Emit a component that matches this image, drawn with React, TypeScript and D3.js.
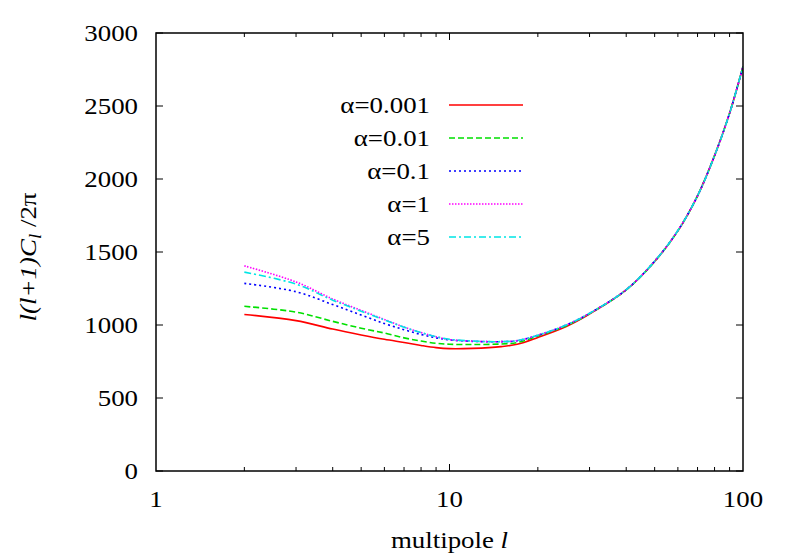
import { useEffect, useRef } from 'react';
import * as d3 from 'd3';

const multipoles = [2, 3, 4, 5, 6, 7, 8, 9, 10, 12, 15, 17, 20, 25, 30, 40, 50, 60, 70, 80, 90, 100];

const alpha0001 = [1072, 1030, 972, 932, 902, 880, 860, 845, 838, 840, 852, 868, 915, 990, 1075, 1240, 1435, 1645, 1885, 2160, 2450, 2770];
const alpha001 = [1128, 1088, 1025, 978, 945, 912, 890, 875, 868, 866, 870, 880, 925, 995, 1078, 1240, 1435, 1645, 1885, 2160, 2450, 2770];
const alpha01 = [1285, 1228, 1140, 1068, 1010, 968, 935, 912, 898, 888, 886, 892, 930, 1000, 1080, 1242, 1437, 1647, 1885, 2160, 2450, 2770];
const alpha1 = [1405, 1295, 1178, 1100, 1038, 986, 948, 920, 900, 889, 886, 893, 930, 1000, 1080, 1242, 1437, 1647, 1885, 2160, 2450, 2770];
const alpha5 = [1362, 1280, 1170, 1095, 1035, 985, 948, 920, 902, 890, 886, 893, 930, 1000, 1080, 1242, 1437, 1647, 1885, 2160, 2450, 2770];

const seriesLabels = ['α=0.001', 'α=0.01', 'α=0.1', 'α=1', 'α=5'];
const yTicks = [0, 500, 1000, 1500, 2000, 2500, 3000];
const xTicks = [1, 10, 100];

const series = [
  { label: seriesLabels[0], values: alpha0001, color: '#ff0000', dash: null },
  { label: seriesLabels[1], values: alpha001, color: '#00e000', dash: '6,3' },
  { label: seriesLabels[2], values: alpha01, color: '#0000ff', dash: '2,3' },
  { label: seriesLabels[3], values: alpha1, color: '#ff00ff', dash: '1.5,1.5' },
  { label: seriesLabels[4], values: alpha5, color: '#00e5e5', dash: '7,3,2,3' },
];

const FONT = 'Liberation Serif, serif';
const STRETCH = 1.12; // the original postscript text is a bit wider than it is tall

const App = () => {
  const svgRef = useRef<SVGSVGElement>(null);

  useEffect(() => {
    if (!svgRef.current) return;
    const width = 790;
    const height = 553;
    const m = { left: 156, right: 47, top: 33, bottom: 82 };

    const svg = d3.select(svgRef.current);
    svg.selectAll('*').remove();

    const x = d3.scaleLog().domain([1, 100]).range([m.left, width - m.right]);
    const y = d3.scaleLinear().domain([0, 3000]).range([height - m.bottom, m.top]);
    const x0 = m.left, x1 = width - m.right, y0 = height - m.bottom, y1 = m.top;

    const label = (px: number, py: number, anchor: string, rot = 0) =>
      svg.append('text')
        .attr('transform', `translate(${px},${py}) rotate(${rot}) scale(${STRETCH},1)`)
        .attr('text-anchor', anchor)
        .attr('font-family', FONT).attr('font-size', 24);

    // curves
    svg.append('clipPath').attr('id', 'plotclip')
      .append('rect').attr('x', x0).attr('y', y1).attr('width', x1 - x0).attr('height', y0 - y1);

    const line = d3.line<number>()
      .x((_, i) => x(multipoles[i]))
      .y(d => y(d))
      .curve(d3.curveCatmullRom.alpha(0.5));

    const g = svg.append('g').attr('clip-path', 'url(#plotclip)');
    series.forEach(s => {
      g.append('path')
        .attr('d', line(s.values))
        .attr('fill', 'none')
        .attr('stroke', s.color)
        .attr('stroke-width', 1.6)
        .attr('stroke-dasharray', s.dash);
    });

    // ticks (inward, on both sides)
    const tk = svg.append('g').attr('stroke', '#000').attr('stroke-width', 1);
    yTicks.forEach(v => {
      tk.append('line').attr('x1', x0).attr('x2', x0 + 7).attr('y1', y(v)).attr('y2', y(v));
      tk.append('line').attr('x1', x1).attr('x2', x1 - 7).attr('y1', y(v)).attr('y2', y(v));
    });
    const minor: number[] = [];
    [1, 10].forEach(dec => d3.range(2, 10).forEach(k => minor.push(k * dec)));
    minor.forEach(v => {
      tk.append('line').attr('x1', x(v)).attr('x2', x(v)).attr('y1', y0).attr('y2', y0 - 4);
      tk.append('line').attr('x1', x(v)).attr('x2', x(v)).attr('y1', y1).attr('y2', y1 + 4);
    });
    tk.append('line').attr('x1', x(10)).attr('x2', x(10)).attr('y1', y0).attr('y2', y0 - 7);
    tk.append('line').attr('x1', x(10)).attr('x2', x(10)).attr('y1', y1).attr('y2', y1 + 7);

    // frame
    svg.append('rect')
      .attr('x', x0).attr('y', y1).attr('width', x1 - x0).attr('height', y0 - y1)
      .attr('fill', 'none').attr('stroke', '#000').attr('stroke-width', 1.5);

    // tick labels
    yTicks.forEach(v => label(x0 - 18, y(v) + 8, 'end').text(v));
    xTicks.forEach(v => label(x(v), y0 + 36, 'middle').text(v));

    // axis titles
    const xt = label((x0 + x1) / 2, 548, 'middle');
    xt.append('tspan').text('multipole ');
    xt.append('tspan').attr('font-style', 'italic').text('l');

    const yt = label(36, (y0 + y1) / 2 + 5, 'middle', -90);
    yt.append('tspan').attr('font-style', 'italic').text('l(l+1)C');
    yt.append('tspan').attr('font-style', 'italic').attr('font-size', 17).attr('dy', 5).text('l');
    yt.append('tspan').attr('dy', -5).text(' /2π');

    // legend
    series.forEach((s, i) => {
      const ly = 105 + i * 33;
      label(430, ly + 8, 'end').text(s.label);
      svg.append('line')
        .attr('x1', 449).attr('x2', 523).attr('y1', ly).attr('y2', ly)
        .attr('stroke', s.color).attr('stroke-width', 1.6)
        .attr('stroke-dasharray', s.dash);
    });
  }, []);

  return (
    <svg ref={svgRef} width={790} height={553}
      style={{ position: 'absolute', left: 0, top: 0, background: '#fff' }} />
  );
};

export default App;
